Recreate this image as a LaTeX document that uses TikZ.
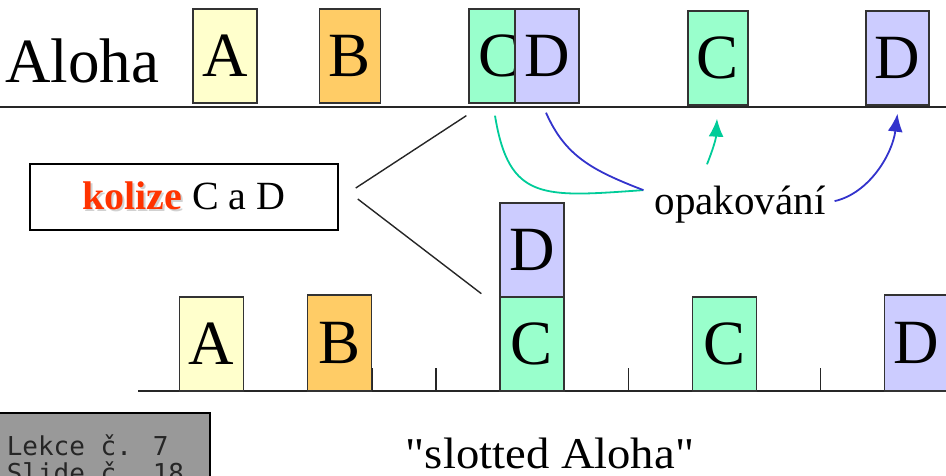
\documentclass[tikz,border=0pt]{standalone}
\usepackage{fontspec}
\setmainfont{Liberation Serif}
\newfontfamily\slotfont{Liberation Serif}[Ligatures=TeXOff]
\newfontfamily\notefont{DejaVu Sans Mono}
\usetikzlibrary{arrows.meta}
\definecolor{frameA}{HTML}{FFFFCC}
\definecolor{frameB}{HTML}{FFCC66}
\definecolor{frameC}{HTML}{99FFCC}
\definecolor{frameD}{HTML}{CCCCFF}
\definecolor{kolred}{HTML}{FF3300}
\definecolor{retryC}{HTML}{00CC99}
\definecolor{retryD}{HTML}{3333CC}
\definecolor{notegray}{HTML}{999999}
\newcommand{\shadowword}[1]{\makebox[0pt][l]{\hspace{2pt}\raisebox{-2pt}{\textcolor{black!18}{#1}}}#1}

\begin{document}
\begin{tikzpicture}[x=1pt,y=-1pt,
    packet/.style={draw=black!80,line width=1.3pt,inner sep=0pt,minimum height=94pt,
      text depth=0pt,font=\fontsize{63}{63}\selectfont},
    wire/.style={line width=1.4pt,black!85},
    retry/.style={line width=1.8pt},
    retryarrow/.style={retry,-{Latex[length=18pt,width=15pt]}}]
  \useasboundingbox (0,0) rectangle (946,475);
  % pure Aloha
  \draw[wire] (0,107) -- (946,107);
  \node[anchor=base west,inner sep=0pt,font=\fontsize{63}{63}\selectfont] (aloha) at (5,82) {Aloha};
  \node[packet,fill=frameA,minimum width=64pt] (a1) at (225,56) {A};
  \node[packet,fill=frameB,minimum width=61pt] (b1) at (350,56) {B};
  \node[packet,fill=frameC,minimum width=61pt] (c1) at (499.5,56) {C};
  \node[packet,fill=frameD,minimum width=64pt] (d1) at (547,56) {D};
  \node[packet,fill=frameC,minimum width=60pt] (c2) at (718,58) {C};
  \node[packet,fill=frameD,minimum width=63pt] (d2) at (897.5,58) {D};
  %
  % slotted Aloha
  \draw[wire] (138,391) -- (946,391);
  \foreach \k in {0,...,11}
    \draw[wire] ({179.5+64.1*\k},368) -- ({179.5+64.1*\k},391);
  \node[packet,fill=frameA,minimum width=64pt] (a3) at (211.5,344) {A};
  \node[packet,fill=frameB,minimum width=64pt,minimum height=96pt] (b3) at (339.7,343) {B};
  \node[packet,fill=frameC,minimum width=64pt] (c3) at (532,344) {C};
  \node[packet,fill=frameD,minimum width=64pt] (d3) at (532,250) {D};
  \node[packet,fill=frameC,minimum width=64pt] (c4) at (724.3,344) {C};
  \node[packet,fill=frameD,minimum width=64pt,minimum height=96pt] (d4) at (916.7,343) {D};
  %
  \node[draw,line width=1.5pt,minimum width=308pt,minimum height=66pt,
    font=\fontsize{40}{44}\selectfont] (kol) at (184,197)
    {\textcolor{kolred}{\bfseries\shadowword{kolize}} C a D};
  \draw[wire] ([shift={(17,-9)}]kol.east) -- ([shift={(-2,12)}]c1.south west);
  \draw[wire] ([shift={(19,2)}]kol.east) -- ([shift={(-18,-4)}]d3.south west);
  %
  \node[anchor=base,inner sep=0pt,font=\fontsize{41}{44}\selectfont] (opak) at (740,214) {opakování};
  \coordinate (hub) at ([shift={(-11,-14)}]opak.west);
  \draw[retry,retryC] ([shift={(-4.5,12)}]c1.south) .. controls +(14,86) and +(-100,7) .. (hub);
  \draw[retry,retryD] ([shift={(-1,9)}]d1.south) .. controls +(19,43) and +(-52,-20) .. (hub);
  \draw[retryarrow,retryC] ([shift={(-33,-21)}]opak.north) .. controls +(6,-15) and +(-1,20) .. ([shift={(-1,13)}]c2.south);
  \draw[retryarrow,retryD] ([shift={(9,-3)}]opak.east) .. controls +(35,-8) and +(-5,40) .. ([shift={(0,8)}]d2.south);
  %
  \node[anchor=base,inner sep=0pt,font=\slotfont\fontsize{44}{44}\selectfont] (slotted) at (550,468)
    {\scalebox{1.06}[1]{"slotted Aloha"}};
  \node[anchor=north west,draw=black,line width=1.5pt,fill=notegray,text=black!85,
    align=left,inner xsep=8pt,inner ysep=19pt,
    font=\notefont\fontsize{26}{27}\selectfont] (note) at (-2,412)
    {\rule{0pt}{24pt}\makebox[195pt][l]{Lekce č. 7}\\Slide č. 18};
\end{tikzpicture}
\end{document}
